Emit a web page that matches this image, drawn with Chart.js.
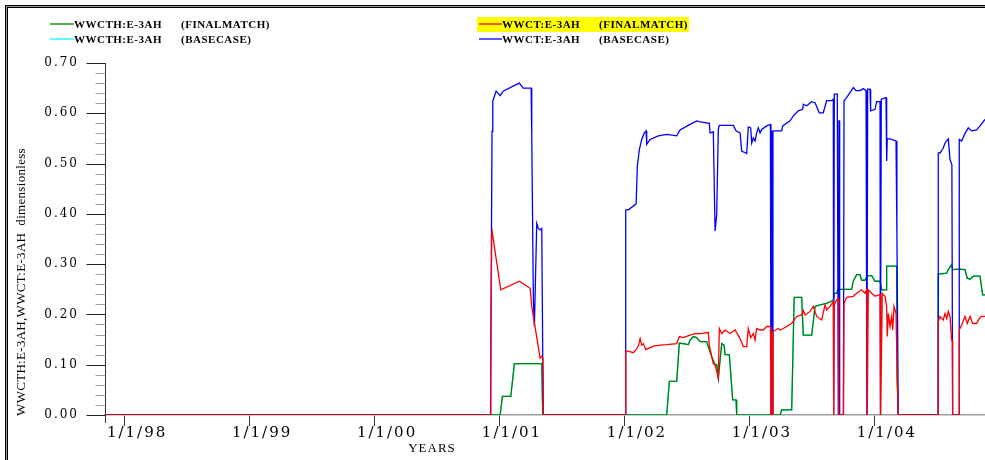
<!DOCTYPE html>
<html>
<head>
<meta charset="utf-8">
<title>WWCT E-3AH</title>
<script src="https://cdn.jsdelivr.net/npm/chart.js"></script>
<style>
  html, body { margin: 0; padding: 0; background: #fff; }
  canvas { display: block; }
</style>
</head>
<body>
<canvas id="chart" width="985" height="460"></canvas>
<script>
// axis range (decimal years) and tick labels
const xMin = 1997.843;
const xMax = 2004.885;
const xTickYears = [1998, 1999, 2000, 2001, 2002, 2003, 2004];
const xTickLabels = ['1/1/98', '1/1/99', '1/1/00', '1/1/01', '1/1/02', '1/1/03', '1/1/04'];
const yTickValues = [0, 0.1, 0.2, 0.3, 0.4, 0.5, 0.6, 0.7];
const yTickLabels = ['0.00', '0.10', '0.20', '0.30', '0.40', '0.50', '0.60', '0.70'];

// WWCT:E-3AH (BASECASE)  [year, value]
const wwctBase = [
  [1997.843, 0], [2000.928, 0], [2000.940, 0.564], [2000.946, 0.624], [2000.973, 0.644],
  [2001.005, 0.635], [2001.029, 0.644], [2001.109, 0.654], [2001.159, 0.660], [2001.189, 0.650],
  [2001.253, 0.650], [2001.258, 0.555], [2001.271, 0.229], [2001.279, 0.176], [2001.298, 0.381],
  [2001.311, 0.371], [2001.325, 0.368], [2001.338, 0.371], [2001.346, 0.117], [2001.351, 0],
  [2002.005, 0], [2002.010, 0.408], [2002.031, 0.408], [2002.093, 0.420], [2002.103, 0.495],
  [2002.119, 0.528], [2002.138, 0.548], [2002.159, 0.561], [2002.173, 0.565], [2002.178, 0.538],
  [2002.205, 0.548], [2002.271, 0.555], [2002.338, 0.558], [2002.418, 0.555], [2002.445, 0.567],
  [2002.503, 0.575], [2002.578, 0.585], [2002.605, 0.583], [2002.679, 0.580], [2002.685, 0.561],
  [2002.711, 0.563], [2002.725, 0.366], [2002.738, 0.398], [2002.751, 0.568], [2002.759, 0.576],
  [2002.871, 0.576], [2002.893, 0.565], [2002.925, 0.561], [2002.938, 0.525], [2002.978, 0.520],
  [2002.991, 0.573], [2003.010, 0.571], [2003.018, 0.541], [2003.031, 0.551], [2003.045, 0.545],
  [2003.058, 0.561], [2003.071, 0.571], [2003.085, 0.561], [2003.098, 0.568], [2003.138, 0.575],
  [2003.168, 0.578], [2003.172, 0], [2003.178, 0.565], [2003.182, 0], [2003.188, 0.565],
  [2003.258, 0.565], [2003.266, 0.575], [2003.325, 0.585], [2003.351, 0.595], [2003.391, 0.605],
  [2003.426, 0.608], [2003.431, 0.618], [2003.458, 0.615], [2003.498, 0.623], [2003.525, 0.621],
  [2003.559, 0.601], [2003.591, 0.601], [2003.618, 0.625], [2003.658, 0.625], [2003.671, 0.628],
  [2003.674, 0], [2003.679, 0.638], [2003.703, 0.638], [2003.711, 0], [2003.716, 0.585],
  [2003.720, 0.585], [2003.722, 0], [2003.752, 0], [2003.757, 0.625], [2003.778, 0.631],
  [2003.831, 0.651], [2003.853, 0.645], [2003.885, 0.645], [2003.911, 0.649], [2003.933, 0.645],
  [2003.940, 0], [2003.946, 0.648], [2003.965, 0.648], [2003.970, 0.605], [2004.005, 0.608],
  [2004.018, 0.623], [2004.045, 0.623], [2004.048, 0], [2004.055, 0.628], [2004.093, 0.631],
  [2004.098, 0.505], [2004.103, 0.549], [2004.125, 0.549], [2004.173, 0.545], [2004.180, 0.361],
  [2004.191, 0], [2004.509, 0], [2004.511, 0.521], [2004.525, 0.521], [2004.551, 0.531],
  [2004.565, 0.541], [2004.591, 0.549], [2004.605, 0.508], [2004.620, 0.498], [2004.626, 0],
  [2004.677, 0], [2004.679, 0.548], [2004.698, 0.545], [2004.725, 0.560], [2004.751, 0.571],
  [2004.778, 0.565], [2004.818, 0.567], [2004.845, 0.575], [2004.885, 0.588]
];

// WWCT:E-3AH (FINALMATCH)
const wwctFinal = [
  [1997.843, 0], [2000.925, 0], [2000.930, 0.135], [2000.938, 0.362], [2000.941, 0.365],
  [2001.010, 0.249], [2001.159, 0.266], [2001.245, 0.252], [2001.258, 0.216], [2001.325, 0.113],
  [2001.338, 0.117], [2001.346, 0.113], [2001.351, 0], [2002.005, 0], [2002.010, 0.127],
  [2002.031, 0.127], [2002.071, 0.124], [2002.093, 0.130], [2002.111, 0.137], [2002.125, 0.152],
  [2002.138, 0.139], [2002.151, 0.142], [2002.170, 0.130], [2002.231, 0.137], [2002.285, 0.139],
  [2002.338, 0.140], [2002.418, 0.142], [2002.439, 0.156], [2002.471, 0.154], [2002.525, 0.159],
  [2002.565, 0.162], [2002.605, 0.162], [2002.671, 0.164], [2002.679, 0.139], [2002.711, 0.102],
  [2002.725, 0.100], [2002.751, 0.073], [2002.759, 0.172], [2002.778, 0.162], [2002.805, 0.169],
  [2002.845, 0.162], [2002.885, 0.169], [2002.925, 0.152], [2002.951, 0.136], [2002.978, 0.136],
  [2002.991, 0.172], [2003.010, 0.154], [2003.031, 0.162], [2003.045, 0.149], [2003.058, 0.172],
  [2003.085, 0.169], [2003.111, 0.169], [2003.138, 0.176], [2003.168, 0.176], [2003.172, 0],
  [2003.178, 0.165], [2003.182, 0], [2003.188, 0.166], [2003.231, 0.172], [2003.245, 0.169],
  [2003.271, 0.172], [2003.338, 0.182], [2003.378, 0.196], [2003.418, 0.199], [2003.431, 0.208],
  [2003.445, 0.199], [2003.485, 0.206], [2003.511, 0.216], [2003.538, 0.196], [2003.578, 0.189],
  [2003.605, 0.219], [2003.618, 0.209], [2003.645, 0.216], [2003.671, 0.226], [2003.674, 0],
  [2003.679, 0.219], [2003.698, 0.229], [2003.711, 0.232], [2003.714, 0], [2003.752, 0],
  [2003.757, 0.222], [2003.778, 0.234], [2003.831, 0.236], [2003.858, 0.242], [2003.898, 0.249],
  [2003.925, 0.242], [2003.938, 0.249], [2003.943, 0], [2003.951, 0.249], [2003.978, 0.242],
  [2004.005, 0.236], [2004.031, 0.239], [2004.045, 0.239], [2004.050, 0], [2004.063, 0.242],
  [2004.085, 0.236], [2004.098, 0.216], [2004.103, 0.156], [2004.111, 0.202], [2004.125, 0.176],
  [2004.138, 0.196], [2004.146, 0.169], [2004.157, 0.216], [2004.173, 0.202], [2004.183, 0.069],
  [2004.191, 0], [2004.509, 0], [2004.511, 0.186], [2004.525, 0.196], [2004.551, 0.189],
  [2004.565, 0.202], [2004.578, 0.192], [2004.591, 0.206], [2004.605, 0.196], [2004.618, 0.149],
  [2004.624, 0.149], [2004.626, 0], [2004.677, 0], [2004.679, 0.169], [2004.698, 0.179],
  [2004.725, 0.196], [2004.743, 0.182], [2004.765, 0.196], [2004.786, 0.182], [2004.818, 0.182],
  [2004.839, 0.192], [2004.858, 0.196], [2004.885, 0.196]
];

// WWCTH:E-3AH (FINALMATCH) - observed history
const wwcthFinal = [
  [1997.843, 0], [2001.005, 0], [2001.023, 0.037], [2001.090, 0.037], [2001.119, 0.102],
  [2001.338, 0.102], [2001.346, 0], [2002.338, 0], [2002.359, 0.067], [2002.418, 0.067],
  [2002.439, 0.143], [2002.511, 0.140], [2002.525, 0.149], [2002.551, 0.156], [2002.578, 0.154],
  [2002.605, 0.146], [2002.658, 0.146], [2002.679, 0.129], [2002.698, 0.116], [2002.725, 0.100],
  [2002.738, 0.100], [2002.751, 0.073], [2002.778, 0.142], [2002.797, 0.139], [2002.805, 0.120],
  [2002.839, 0.120], [2002.866, 0.030], [2002.893, 0.030], [2002.898, 0], [2003.245, 0],
  [2003.258, 0.010], [2003.338, 0.010], [2003.358, 0.234], [2003.418, 0.234], [2003.431, 0.159],
  [2003.498, 0.159], [2003.525, 0.216], [2003.565, 0.219], [2003.618, 0.222], [2003.671, 0.228],
  [2003.679, 0.242], [2003.698, 0.242], [2003.711, 0.252], [2003.725, 0.250], [2003.818, 0.250],
  [2003.831, 0.266], [2003.858, 0.279], [2003.885, 0.279], [2003.898, 0.268], [2003.925, 0.268],
  [2003.943, 0.277], [2003.978, 0.277], [2004.005, 0.266], [2004.045, 0.266], [2004.058, 0.249],
  [2004.093, 0.249], [2004.098, 0.296], [2004.178, 0.296], [2004.183, 0.066], [2004.191, 0],
  [2004.509, 0], [2004.511, 0.280], [2004.578, 0.282], [2004.591, 0.289], [2004.618, 0.299],
  [2004.626, 0.289], [2004.679, 0.290], [2004.725, 0.289], [2004.743, 0.272], [2004.765, 0.270],
  [2004.791, 0.276], [2004.845, 0.276], [2004.866, 0.239], [2004.885, 0.239]
];

// WWCTH:E-3AH (BASECASE) - same history, hidden under the green line
const wwcthBase = wwcthFinal;

// legend rows drawn in the header
const legendItems = [
  { name: 'WWCTH:E-3AH', run: '(FINALMATCH)', color: '#008000', x: 50, y: 24, textX: 74, runX: 181, mark: false },
  { name: 'WWCTH:E-3AH', run: '(BASECASE)', color: '#00ffff', x: 50, y: 39, textX: 74, runX: 181, mark: false },
  { name: 'WWCT:E-3AH', run: '(FINALMATCH)', color: '#ff0000', x: 479, y: 24, textX: 502, runX: 599, mark: true },
  { name: 'WWCT:E-3AH', run: '(BASECASE)', color: '#0000ff', x: 479, y: 39, textX: 502, runX: 599, mark: false }
];

const serif = 'Liberation Serif';
const tickFont = 'DejaVu Serif';

const decorPlugin = {
  id: 'decor',
  beforeDraw(chart) {
    // tick labels of the original are widely spaced
    chart.ctx.letterSpacing = '2px';
  },
  afterDraw(chart) {
    const { ctx, scales: { x, y } } = chart;
    ctx.save();

    // double frame on top and left
    ctx.fillStyle = '#000';
    ctx.fillRect(5, 5, 980, 1);
    ctx.fillRect(5, 7, 980, 1);
    ctx.fillRect(5, 5, 1, 455);
    ctx.fillRect(7, 5, 1, 455);
    ctx.fillStyle = '#9a9a9a';
    ctx.fillRect(6, 6, 979, 1);
    ctx.fillRect(6, 6, 1, 454);

    // y axis ticks: majors every 0.1, minors every 0.02
    const ax = Math.round(y.right) + 0.5;
    ctx.lineWidth = 1;
    for (let i = 0; i <= 35; i++) {
      const py = Math.round(y.getPixelForValue(i * 0.02)) + 0.5;
      const major = i % 5 === 0;
      ctx.strokeStyle = major ? '#222' : '#a0a0a0';
      ctx.beginPath();
      ctx.moveTo(major ? ax - 19 : ax - 10, py);
      ctx.lineTo(ax, py);
      ctx.stroke();
    }
    // y axis runs a little below the x axis
    ctx.strokeStyle = '#333';
    ctx.beginPath();
    ctx.moveTo(ax, y.bottom);
    ctx.lineTo(ax, y.bottom + 8);
    ctx.stroke();

    // legend
    ctx.textBaseline = 'middle';
    ctx.textAlign = 'left';
    ctx.font = 'bold 11px "' + serif + '"';
    ctx.letterSpacing = '0.5px';
    legendItems.forEach(item => {
      if (item.mark) {
        ctx.fillStyle = '#ffff00';
        ctx.fillRect(477, 17, 212, 15);
      }
      ctx.strokeStyle = item.color;
      ctx.lineWidth = 1.3;
      ctx.beginPath();
      ctx.moveTo(item.x, item.y);
      ctx.lineTo(item.textX, item.y);
      ctx.stroke();
      ctx.fillStyle = '#000';
      ctx.fillText(item.name, item.textX, item.y + 1);
      ctx.fillText(item.run, item.runX, item.y + 1);
    });

    // axis titles
    ctx.font = '13px "' + serif + '"';
    ctx.letterSpacing = '1px';
    ctx.textAlign = 'center';
    ctx.fillText('YEARS', 432, 449);

    ctx.translate(22, 282);
    ctx.rotate(-Math.PI / 2);
    ctx.letterSpacing = '0.3px';
    ctx.fillText('WWCTH:E-3AH,WWCT:E-3AH  dimensionless', 0, 0);

    ctx.restore();
  }
};

new Chart(document.getElementById('chart'), {
  type: 'line',
  data: {
    datasets: [
      { label: 'WWCTH:E-3AH (FINALMATCH)', data: wwcthFinal, borderColor: '#008000', order: 2 },
      { label: 'WWCTH:E-3AH (BASECASE)', data: wwcthBase, borderColor: '#00ffff', order: 3 },
      { label: 'WWCT:E-3AH (FINALMATCH)', data: wwctFinal, borderColor: '#ff0000', order: 0 },
      { label: 'WWCT:E-3AH (BASECASE)', data: wwctBase, borderColor: '#0000ff', order: 1 }
    ]
  },
  options: {
    responsive: false,
    animation: false,
    events: [],
    elements: {
      line: { borderWidth: 1.3, tension: 0 },
      point: { radius: 0 }
    },
    layout: { padding: { top: 63, left: 0, right: 0, bottom: 0 } },
    plugins: {
      legend: { display: false },
      tooltip: { enabled: false }
    },
    scales: {
      x: {
        type: 'linear',
        min: xMin,
        max: xMax,
        afterBuildTicks: scale => { scale.ticks = xTickYears.map(v => ({ value: v })); },
        afterFit: scale => { scale.height = 45; },
        ticks: {
          autoSkip: false,
          maxRotation: 0,
          callback: (v, i) => xTickLabels[i],
          font: { family: tickFont, size: 15 },
          color: '#000',
          labelOffset: 12.5,
          padding: -2
        },
        grid: { drawOnChartArea: false, tickLength: 11, tickColor: '#333' },
        border: { color: '#a0a0a0', width: 1.5 }
      },
      y: {
        min: 0,
        max: 0.7,
        afterBuildTicks: scale => { scale.ticks = yTickValues.map(v => ({ value: v })); },
        afterFit: scale => { scale.width = 105; },
        ticks: {
          callback: (v, i) => yTickLabels[i],
          font: { family: tickFont, size: 12 },
          color: '#000',
          padding: 26
        },
        grid: { drawOnChartArea: false, drawTicks: false },
        border: { color: '#333', width: 1 }
      }
    }
  },
  plugins: [decorPlugin]
});
</script>
</body>
</html>
